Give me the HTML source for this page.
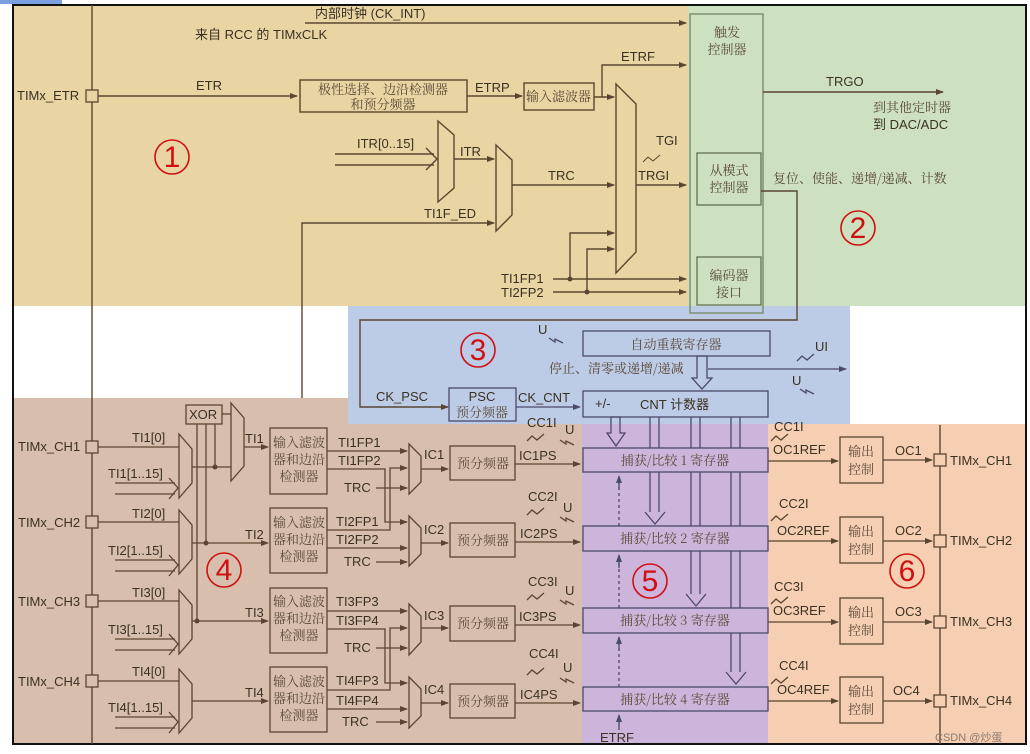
<!DOCTYPE html>
<html><head><meta charset="utf-8"><style>
body{margin:0;background:#fff}
svg{display:block}
text{font-family:"Liberation Sans","Noto Sans CJK SC",sans-serif;font-size:13px;fill:#3b3122}
.c{font-family:"Noto Serif CJK SC","Liberation Serif",serif;fill:#5a4a38}
.n{font-size:30px;fill:#d01010;font-family:"Liberation Sans",sans-serif}
</style></head><body>
<svg width="1030" height="754" viewBox="0 0 1030 754" xmlns="http://www.w3.org/2000/svg">
<defs><marker id="a" markerWidth="8" markerHeight="8" refX="7" refY="4" orient="auto" markerUnits="userSpaceOnUse"><path d="M0,1 L8,4 L0,7z" fill="#5a4630"/></marker>
<marker id="b" markerWidth="8" markerHeight="8" refX="7" refY="4" orient="auto" markerUnits="userSpaceOnUse"><path d="M0,1 L8,4 L0,7z" fill="#4a4a6a"/></marker></defs>
<rect x="0" y="0" width="62" height="4" fill="#7aa0e0"/>
<!-- regions -->
<rect x="13" y="5" width="675" height="301" fill="#e8d5a3"/>
<rect x="688" y="5" width="338" height="301" fill="#cde0c0"/>
<rect x="348" y="306" width="502" height="118" fill="#bccbe6"/>
<rect x="13" y="398" width="335" height="346" fill="#d8bfad"/>
<rect x="348" y="424" width="234" height="320" fill="#d8bfad"/>
<rect x="582" y="424" width="186" height="320" fill="#cdb4db"/>
<rect x="768" y="424" width="258" height="320" fill="#f6cfb2"/>
<rect x="13" y="5" width="1013" height="739" fill="none" stroke="#111" stroke-width="2"/>
<g stroke="#5a4630" stroke-width="1.4" fill="none">
<line x1="92" y1="5" x2="92" y2="744"/>
<line x1="940" y1="425" x2="940" y2="744"/>
<!-- top -->
<line x1="305" y1="23" x2="686" y2="23" marker-end="url(#a)"/>
<line x1="98" y1="96" x2="297" y2="96" marker-end="url(#a)"/>
<rect x="300" y="80" width="167" height="32"/>
<line x1="467" y1="96" x2="522" y2="96" marker-end="url(#a)"/>
<rect x="524" y="83" width="70" height="27"/>
<line x1="594" y1="97" x2="614" y2="97" marker-end="url(#a)"/>
<polyline points="602,97 602,65 686,65" marker-end="url(#a)"/>
<polygon points="616,84 636,104 636,252 616,273"/>
<polygon points="438,121 454,135 454,188 438,202"/>
<polyline points="335,154 434,154"/><polyline points="335,165 434,165"/><polyline points="426,148 437,159 426,170"/>
<line x1="454" y1="159" x2="494" y2="159" marker-end="url(#a)"/>
<polygon points="496,145 512,160 512,215 496,231"/>
<polyline points="302,398 302,223 494,223" marker-end="url(#a)"/>
<line x1="512" y1="185" x2="614" y2="185" marker-end="url(#a)"/>
<line x1="636" y1="185" x2="686" y2="185" marker-end="url(#a)"/>
<line x1="553" y1="279" x2="686" y2="279" marker-end="url(#a)"/>
<line x1="553" y1="292" x2="686" y2="292" marker-end="url(#a)"/>
<polyline points="570,279 570,233 614,233" marker-end="url(#a)"/>
<polyline points="587,292 587,249 614,249" marker-end="url(#a)"/>
<rect x="690" y="14" width="73" height="299" stroke="#7a8a6a"/>
<rect x="697" y="153" width="64" height="52" stroke="#6a7a5a"/>
<rect x="697" y="257" width="64" height="48" stroke="#6a7a5a"/>
<line x1="763" y1="92" x2="943" y2="92" marker-end="url(#a)"/>
<polyline points="761,191 797,191 797,320 360,320 360,407 448,407" marker-end="url(#a)"/>
</g>
<rect x="86" y="90" width="12" height="12" fill="#e8d5a3" stroke="#5a4630" stroke-width="1.3"/>
<g fill="#5a4630"><circle cx="570" cy="279" r="2.5"/><circle cx="587" cy="292" r="2.5"/></g>
<text x="315" y="18">内部时钟 (CK_INT)</text>
<text x="195" y="39">来自 RCC 的 TIMxCLK</text>
<text x="17" y="100">TIMx_ETR</text>
<text x="196" y="90">ETR</text>
<text x="383" y="94" text-anchor="middle" class="c">极性选择、边沿检测器</text>
<text x="383" y="109" text-anchor="middle" class="c">和预分频器</text>
<text x="475" y="92">ETRP</text>
<text x="526" y="101" class="c">输入滤波器</text>
<text x="621" y="61">ETRF</text>
<text x="357" y="148">ITR[0..15]</text>
<text x="460" y="156">ITR</text>
<text x="548" y="180">TRC</text>
<text x="424" y="218">TI1F_ED</text>
<text x="638" y="180">TRGI</text>
<text x="656" y="145">TGI</text>
<path d="M643,162 l5,-5 l5,4 l7,-6" stroke="#5a4630" fill="none"/>
<text x="501" y="283">TI1FP1</text><text x="501" y="297">TI2FP2</text>
<text x="727" y="37" text-anchor="middle" class="c">触发</text>
<text x="727" y="54" text-anchor="middle" class="c">控制器</text>
<text x="729" y="175" text-anchor="middle" class="c">从模式</text>
<text x="729" y="192" text-anchor="middle" class="c">控制器</text>
<text x="729" y="280" text-anchor="middle" class="c">编码器</text>
<text x="729" y="297" text-anchor="middle" class="c">接口</text>
<text x="826" y="86">TRGO</text>
<text x="873" y="112" class="c">到其他定时器</text>
<text x="873" y="129">到 DAC/ADC</text>
<text x="773" y="183" class="c">复位、使能、递增/递减、计数</text>
<!-- region 3 -->
<g stroke="#4a4a6a" stroke-width="1.3" fill="none">
<rect x="583" y="331" width="187" height="25"/>
<rect x="583" y="391" width="185" height="26"/>
<rect x="449" y="388" width="67" height="33"/>
<line x1="708" y1="369" x2="846" y2="369" marker-end="url(#b)"/>
<polygon points="697,356 707,356 707,378 712,378 702,389 692,378 697,378"/>
<line x1="516" y1="407" x2="580" y2="407" marker-end="url(#b)"/>
<path d="M549,338 l6,4 l0,-3 l8,4"/><path d="M800,389 l6,4 l0,-3 l8,4"/><path d="M797,361 l5,-5 l5,4 l7,-6"/>
</g>
<text x="538" y="334">U</text>
<text x="676" y="349" text-anchor="middle" class="c">自动重载寄存器</text>
<text x="549" y="373" class="c">停止、清零或递增/递减</text>
<text x="815" y="351">UI</text><text x="792" y="385">U</text>
<text x="376" y="401">CK_PSC</text>
<text x="482" y="401" text-anchor="middle">PSC</text>
<text x="482" y="417" text-anchor="middle" class="c">预分频器</text>
<text x="518" y="402">CK_CNT</text>
<text x="595" y="408">+/-</text>
<text x="640" y="409">CNT 计数器</text>
<!-- region 4 -->
<g stroke="#5a4630" stroke-width="1.3" fill="none">
<rect x="186" y="405" width="36" height="19"/>
<polygon points="231,403 244,418 244,466 231,481"/>
<line x1="222" y1="414" x2="231" y2="414"/>
<line x1="197" y1="424" x2="197" y2="621"/><line x1="206" y1="424" x2="206" y2="543"/><line x1="215" y1="424" x2="215" y2="467"/>
<line x1="192" y1="467" x2="231" y2="467"/>
<line x1="244" y1="447" x2="268" y2="447" marker-end="url(#a)"/>
<line x1="192" y1="543" x2="268" y2="543" marker-end="url(#a)"/>
<line x1="192" y1="621" x2="268" y2="621" marker-end="url(#a)"/>
<line x1="192" y1="701" x2="268" y2="701" marker-end="url(#a)"/>
</g>
<g fill="#5a4630"><circle cx="215" cy="467" r="2.5"/><circle cx="206" cy="543" r="2.5"/><circle cx="197" cy="621" r="2.5"/></g>
<text x="189" y="419">XOR</text>
<text x="245" y="443">TI1</text><text x="245" y="539">TI2</text><text x="245" y="617">TI3</text><text x="245" y="697">TI4</text>
<!-- channels generated manually -->
<g stroke="#5a4630" stroke-width="1.3" fill="none">
<line x1="98" y1="447" x2="179" y2="447"/><line x1="98" y1="522" x2="179" y2="522"/><line x1="98" y1="601" x2="179" y2="601"/><line x1="98" y1="681" x2="179" y2="681"/>
<polygon points="179,434 192,449 192,483 179,498"/><polygon points="179,510 192,525 192,559 179,574"/><polygon points="179,590 192,605 192,639 179,654"/><polygon points="179,669 192,684 192,718 179,733"/>
<path d="M115,483 H175 M115,494 H175 M169,478 L178,488 L169,499"/>
<path d="M115,560 H175 M115,571 H175 M169,555 L178,565 L169,576"/>
<path d="M115,639 H175 M115,650 H175 M169,634 L178,644 L169,655"/>
<path d="M115,717 H175 M115,728 H175 M169,712 L178,722 L169,733"/>
<rect x="270" y="428" width="57" height="66"/><rect x="270" y="508" width="57" height="65"/><rect x="270" y="588" width="57" height="65"/><rect x="270" y="667" width="57" height="65"/>
<polygon points="409,444 421,456 421,482 409,494"/><polygon points="409,516 421,528 421,554 409,566"/><polygon points="409,604 421,616 421,642 409,655"/><polygon points="409,677 421,689 421,716 409,728"/>
<rect x="450" y="446" width="65" height="34"/><rect x="450" y="523" width="65" height="34"/><rect x="450" y="606" width="65" height="35"/><rect x="450" y="684" width="65" height="34"/>
<!-- CH1 -->
<line x1="327" y1="451" x2="407" y2="451" marker-end="url(#a)"/>
<polyline points="327,469 385,469 385,522 407,522" marker-end="url(#a)"/>
<polyline points="327,530 390,530 390,468 407,468" marker-end="url(#a)"/>
<line x1="376" y1="488" x2="407" y2="488" marker-end="url(#a)"/>
<line x1="327" y1="548" x2="407" y2="548" marker-end="url(#a)"/>
<line x1="376" y1="562" x2="407" y2="562" marker-end="url(#a)"/>
<line x1="327" y1="611" x2="407" y2="611" marker-end="url(#a)"/>
<polyline points="327,629 385,629 385,683 407,683" marker-end="url(#a)"/>
<polyline points="327,690 390,690 390,628 407,628" marker-end="url(#a)"/>
<line x1="376" y1="648" x2="407" y2="648" marker-end="url(#a)"/>
<line x1="327" y1="709" x2="407" y2="709" marker-end="url(#a)"/>
<line x1="376" y1="722" x2="407" y2="722" marker-end="url(#a)"/>
<line x1="421" y1="469" x2="448" y2="469" marker-end="url(#a)"/>
<line x1="421" y1="543" x2="448" y2="543" marker-end="url(#a)"/>
<line x1="421" y1="628" x2="448" y2="628" marker-end="url(#a)"/>
<line x1="421" y1="703" x2="448" y2="703" marker-end="url(#a)"/>
<line x1="515" y1="464" x2="580" y2="464" marker-end="url(#a)"/>
<line x1="515" y1="542" x2="580" y2="542" marker-end="url(#a)"/>
<line x1="515" y1="625" x2="580" y2="625" marker-end="url(#a)"/>
<line x1="515" y1="703" x2="580" y2="703" marker-end="url(#a)"/>
<path d="M527,441 l5,-5 l5,4 l7,-6 M560,440 l6,4 l0,-3 l8,4"/>
<path d="M527,515 l5,-5 l5,4 l7,-6 M560,517 l6,4 l0,-3 l8,4"/>
<path d="M527,600 l5,-5 l5,4 l7,-6 M560,600 l6,4 l0,-3 l8,4"/>
<path d="M527,675 l5,-5 l5,4 l7,-6 M560,678 l6,4 l0,-3 l8,4"/>
</g>
<g fill="#d8bfad" stroke="#5a4630" stroke-width="1.3"><rect x="86" y="441" width="12" height="12"/><rect x="86" y="516" width="12" height="12"/><rect x="86" y="595" width="12" height="12"/><rect x="86" y="675" width="12" height="12"/></g>
<text x="18" y="451">TIMx_CH1</text><text x="18" y="527">TIMx_CH2</text><text x="18" y="606">TIMx_CH3</text><text x="18" y="686">TIMx_CH4</text>
<text x="132" y="442">TI1[0]</text><text x="132" y="518">TI2[0]</text><text x="132" y="597">TI3[0]</text><text x="132" y="676">TI4[0]</text>
<text x="108" y="478">TI1[1..15]</text><text x="108" y="555">TI2[1..15]</text><text x="108" y="634">TI3[1..15]</text><text x="108" y="712">TI4[1..15]</text>
<g class="c" text-anchor="middle">
<text x="299" y="447" class="c">输入滤波</text><text x="299" y="464" class="c">器和边沿</text><text x="299" y="481" class="c">检测器</text>
<text x="299" y="527" class="c">输入滤波</text><text x="299" y="544" class="c">器和边沿</text><text x="299" y="561" class="c">检测器</text>
<text x="299" y="606" class="c">输入滤波</text><text x="299" y="623" class="c">器和边沿</text><text x="299" y="640" class="c">检测器</text>
<text x="299" y="686" class="c">输入滤波</text><text x="299" y="703" class="c">器和边沿</text><text x="299" y="720" class="c">检测器</text>
<text x="483" y="468" class="c">预分频器</text><text x="483" y="545" class="c">预分频器</text><text x="483" y="628" class="c">预分频器</text><text x="483" y="706" class="c">预分频器</text>
</g>
<text x="338" y="447">TI1FP1</text><text x="338" y="465">TI1FP2</text><text x="344" y="492">TRC</text>
<text x="336" y="526">TI2FP1</text><text x="336" y="544">TI2FP2</text><text x="344" y="566">TRC</text>
<text x="336" y="606">TI3FP3</text><text x="336" y="625">TI3FP4</text><text x="344" y="652">TRC</text>
<text x="336" y="685">TI4FP3</text><text x="336" y="705">TI4FP4</text><text x="342" y="726">TRC</text>
<text x="424" y="459">IC1</text><text x="424" y="534">IC2</text><text x="424" y="620">IC3</text><text x="424" y="694">IC4</text>
<text x="519" y="460">IC1PS</text><text x="520" y="538">IC2PS</text><text x="519" y="621">IC3PS</text><text x="520" y="699">IC4PS</text>
<text x="527" y="427">CC1I</text><text x="528" y="501">CC2I</text><text x="528" y="586">CC3I</text><text x="529" y="658">CC4I</text>
<text x="565" y="434">U</text><text x="563" y="512">U</text><text x="565" y="595">U</text><text x="563" y="672">U</text>
<!-- region 5 -->
<g stroke="#4a4a6a" stroke-width="1.3" fill="none">
<rect x="583" y="448" width="185" height="24"/><rect x="583" y="526" width="185" height="25"/><rect x="583" y="608" width="185" height="25"/><rect x="583" y="687" width="185" height="24"/>
<polygon points="611,417 620,417 620,433 625,433 616,446 607,433 611,433"/>
<path d="M650,417 V448 M659,417 V448 M650,472 V512 M659,472 V512 M645,512 L655,524 L665,512"/>
<path d="M691,417 V448 M700,417 V448 M691,472 V526 M700,472 V526 M691,551 V594 M700,551 V594 M686,594 L696,606 L706,594"/>
<path d="M731,417 V448 M740,417 V448 M731,472 V526 M740,472 V526 M731,551 V608 M740,551 V608 M731,633 V672 M740,633 V672 M726,672 L736,684 L746,672"/>
<path d="M619,526 V478 M619,608 V556 M619,687 V638" stroke-dasharray="3,3"/>
<line x1="619" y1="730" x2="619" y2="715" marker-end="url(#b)"/>
<line x1="619" y1="490" x2="619" y2="476" marker-end="url(#b)"/>
<line x1="619" y1="568" x2="619" y2="555" marker-end="url(#b)"/>
<line x1="619" y1="650" x2="619" y2="637" marker-end="url(#b)"/>
</g>
<text x="675" y="465" text-anchor="middle" class="c">捕获/比较 1 寄存器</text>
<text x="675" y="543" text-anchor="middle" class="c">捕获/比较 2 寄存器</text>
<text x="675" y="625" text-anchor="middle" class="c">捕获/比较 3 寄存器</text>
<text x="675" y="704" text-anchor="middle" class="c">捕获/比较 4 寄存器</text>
<text x="600" y="742">ETRF</text>
<!-- region 6 -->
<g stroke="#5a4630" stroke-width="1.3" fill="none">
<rect x="840" y="437" width="43" height="46"/><rect x="840" y="517" width="43" height="46"/><rect x="840" y="598" width="43" height="46"/><rect x="840" y="677" width="43" height="46"/>
<line x1="768" y1="461" x2="838" y2="461" marker-end="url(#a)"/><line x1="768" y1="541" x2="838" y2="541" marker-end="url(#a)"/>
<line x1="768" y1="622" x2="838" y2="622" marker-end="url(#a)"/><line x1="768" y1="701" x2="838" y2="701" marker-end="url(#a)"/>
<line x1="883" y1="460" x2="932" y2="460" marker-end="url(#a)"/><line x1="883" y1="541" x2="932" y2="541" marker-end="url(#a)"/>
<line x1="883" y1="622" x2="932" y2="622" marker-end="url(#a)"/><line x1="883" y1="701" x2="932" y2="701" marker-end="url(#a)"/>
<path d="M771,441 l5,-5 l5,4 l7,-6 M771,521 l5,-5 l5,4 l7,-6 M771,604 l5,-5 l5,4 l7,-6 M771,684 l5,-5 l5,4 l7,-6"/>
</g>
<g fill="#f6cfb2" stroke="#5a4630" stroke-width="1.3"><rect x="934" y="454" width="12" height="12"/><rect x="934" y="535" width="12" height="12"/><rect x="934" y="616" width="12" height="12"/><rect x="934" y="695" width="12" height="12"/></g>
<text x="774" y="431">CC1I</text><text x="779" y="508">CC2I</text><text x="774" y="591">CC3I</text><text x="779" y="670">CC4I</text>
<text x="773" y="454">OC1REF</text><text x="777" y="535">OC2REF</text><text x="773" y="615">OC3REF</text><text x="777" y="694">OC4REF</text>
<text x="895" y="455">OC1</text><text x="895" y="535">OC2</text><text x="895" y="616">OC3</text><text x="893" y="695">OC4</text>
<text x="950" y="465">TIMx_CH1</text><text x="950" y="545">TIMx_CH2</text><text x="950" y="626">TIMx_CH3</text><text x="950" y="705">TIMx_CH4</text>
<g text-anchor="middle">
<text x="861" y="456" class="c">输出</text><text x="861" y="474" class="c">控制</text>
<text x="861" y="536" class="c">输出</text><text x="861" y="554" class="c">控制</text>
<text x="861" y="617" class="c">输出</text><text x="861" y="635" class="c">控制</text>
<text x="861" y="696" class="c">输出</text><text x="861" y="714" class="c">控制</text>
</g>
<!-- circled numbers -->
<g fill="none" stroke="#d01010" stroke-width="1.6">
<circle cx="172" cy="157" r="17"/><circle cx="858" cy="228" r="17"/><circle cx="478" cy="350" r="17"/>
<circle cx="224" cy="570" r="17"/><circle cx="650" cy="581" r="17"/><circle cx="907" cy="571" r="17"/>
</g>
<g text-anchor="middle" font-size="26">
<text x="172" y="167" class="n">1</text><text x="858" y="238" class="n">2</text><text x="478" y="360" class="n">3</text>
<text x="224" y="580" class="n">4</text><text x="650" y="591" class="n">5</text><text x="907" y="581" class="n">6</text>
</g>
<text x="935" y="741" style="font-size:11px;fill:#8a7a70">CSDN @炒蛋</text>
</svg>
</body></html>
